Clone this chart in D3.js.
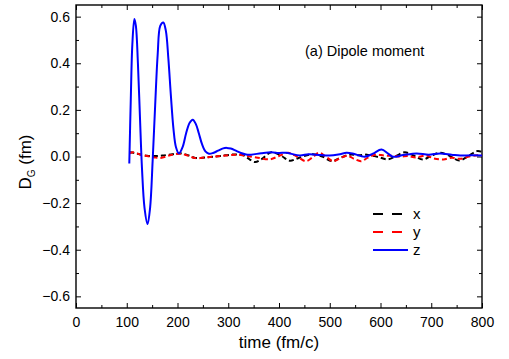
<!doctype html>
<html>
<head>
<meta charset="utf-8">
<script src="https://d3js.org/d3.v7.min.js"></script>
<style>
  body { margin: 0; background: #fff; }
  text { font-family: "Liberation Sans", Arial, sans-serif; fill: #000; }
</style>
</head>
<body>
<svg width="509" height="359"></svg>
<script>
// z component (blue, solid)
var tZ = [105, 108, 111, 115, 118, 122, 126, 130, 135, 141, 146, 151, 156, 161, 166, 172, 177, 182, 187, 192, 197, 203,
          210, 217, 224, 230, 236, 242, 248, 255, 262, 270, 280, 290, 297, 305, 315, 325, 335, 345, 365, 385, 400, 415,
          441, 458, 474, 500, 520, 533, 545, 569, 585, 602, 615, 625, 645, 671, 695, 717, 740, 757, 780, 800];
var zVals = [-0.03, 0.25, 0.48, 0.59, 0.56, 0.40, 0.17, -0.05, -0.22, -0.29, -0.22, -0.02, 0.22, 0.44, 0.56, 0.575, 0.54, 0.42, 0.26, 0.12, 0.04, 0.013,
             0.04, 0.10, 0.145, 0.158, 0.14, 0.10, 0.055, 0.022, 0.012, 0.015, 0.025, 0.035, 0.037, 0.034, 0.025, 0.015, 0.009, 0.008, 0.014, 0.018, 0.015, 0.016,
             0.004, 0.010, 0.008, 0.004, 0.010, 0.016, 0.013, -0.001, 0.012, 0.030, 0.012, -0.001, 0.006, 0.013, 0.008, 0.013, 0.008, 0.004, 0.005, 0.004];

// x component (black, dashed)
var tX = [105, 115, 125, 140, 155, 170, 190, 205, 220, 235, 255, 275, 295, 315, 330, 342, 353, 365, 385, 403, 421, 440, 467, 485,
          505, 520, 540, 557, 573, 595, 615, 632, 648, 666, 684, 700, 717, 735, 755, 772, 790, 800];
var xVals = [0.018, 0.015, 0.010, 0.003, 0.002, 0.004, 0.010, 0.014, 0.006, -0.006, -0.004, 0.000, 0.005, 0.009, 0.005, -0.012, -0.024, -0.012, 0.018, 0.005, -0.018, -0.005, 0.010, 0.000,
             -0.020, -0.006, 0.008, 0.005, 0.008, -0.002, -0.012, 0.004, 0.018, 0.003, -0.013, 0.003, 0.016, 0.004, -0.017, 0.000, 0.023, 0.020];

// y component (red, dashed)
var tY = [105, 113, 125, 140, 155, 167, 185, 205, 220, 235, 255, 275, 295, 315, 335, 355, 382, 400, 418, 437, 453, 467, 479, 493,
          507, 520, 535, 548, 562, 575, 590, 608, 625, 640, 654, 670, 690, 705, 724, 740, 757, 775, 790, 800];
var yVals = [0.013, 0.018, 0.010, 0.002, -0.004, -0.006, 0.005, 0.012, 0.004, -0.007, -0.004, 0.000, 0.004, 0.008, 0.003, -0.004, -0.012, 0.002, 0.016, -0.002, -0.020, -0.002, 0.016, -0.002,
             -0.020, -0.008, 0.003, -0.010, -0.020, -0.005, 0.008, 0.004, 0.003, 0.000, 0.002, -0.004, 0.004, -0.008, -0.013, -0.005, -0.010, 0.000, 0.005, 0.004];

var xTicks = [0, 100, 200, 300, 400, 500, 600, 700, 800];
var yTicks = [-0.6, -0.4, -0.2, 0.0, 0.2, 0.4, 0.6];

var svg = d3.select("svg");
var mLeft = 76, mRight = 482, mTop = 5, mBottom = 308;

var xScale = d3.scaleLinear().domain([0, 800]).range([mLeft, mRight]);
var yScale = d3.scaleLinear().domain([-0.65, 0.65]).range([mBottom, mTop]);

// minor ticks
var xMinor = d3.range(50, 800, 100);
var yMinor = [-0.5, -0.3, -0.1, 0.1, 0.3, 0.5];

function ticksOn(axis, values, size) {
  return axis.tickValues(values).tickSize(size).tickFormat("");
}

svg.append("g").attr("transform", "translate(0," + mBottom + ")")
  .call(d3.axisBottom(xScale).tickValues(xTicks).tickSize(-5).tickPadding(9).tickFormat(d3.format("d")));
svg.append("g").attr("transform", "translate(0," + mBottom + ")")
  .call(ticksOn(d3.axisBottom(xScale), xMinor, -3));
svg.append("g").attr("transform", "translate(0," + mTop + ")")
  .call(ticksOn(d3.axisTop(xScale), xTicks, -5));
svg.append("g").attr("transform", "translate(0," + mTop + ")")
  .call(ticksOn(d3.axisTop(xScale), xMinor, -3));

svg.append("g").attr("transform", "translate(" + mLeft + ",0)")
  .call(d3.axisLeft(yScale).tickValues(yTicks).tickSize(-5).tickPadding(6).tickFormat(d3.format(".1f")));
svg.append("g").attr("transform", "translate(" + mLeft + ",0)")
  .call(ticksOn(d3.axisLeft(yScale), yMinor, -3));
svg.append("g").attr("transform", "translate(" + mRight + ",0)")
  .call(ticksOn(d3.axisRight(yScale), yTicks, -5));
svg.append("g").attr("transform", "translate(" + mRight + ",0)")
  .call(ticksOn(d3.axisRight(yScale), yMinor, -3));

svg.selectAll(".domain").remove();
svg.selectAll(".tick line").attr("stroke", "#000").attr("stroke-width", 1);
svg.selectAll(".tick text").attr("font-size", 14).attr("font-family", "Liberation Sans, Arial, sans-serif");

svg.append("rect")
  .attr("x", mLeft).attr("y", mTop)
  .attr("width", mRight - mLeft).attr("height", mBottom - mTop)
  .attr("fill", "none").attr("stroke", "#000").attr("stroke-width", 1.4);

var line = d3.line()
  .x(function (d) { return xScale(d[0]); })
  .y(function (d) { return yScale(d[1]); })
  .curve(d3.curveCatmullRom);

var series = [
  { t: tX, v: xVals, color: "#000", dash: "5,3" },
  { t: tY, v: yVals, color: "#ff0000", dash: "5,3" },
  { t: tZ, v: zVals, color: "#0000ff", dash: null }
];

series.forEach(function (s) {
  svg.append("path")
    .datum(d3.zip(s.t, s.v))
    .attr("d", line)
    .attr("fill", "none")
    .attr("stroke", s.color)
    .attr("stroke-width", 2)
    .attr("stroke-dasharray", s.dash);
});

// annotation
svg.append("text").attr("x", 305).attr("y", 56).attr("font-size", 14.5).text("(a) Dipole moment");

// legend
var legend = [
  { name: "x", color: "#000", dash: "10,9", y: 214 },
  { name: "y", color: "#ff0000", dash: "10,9", y: 232 },
  { name: "z", color: "#0000ff", dash: null, y: 250 }
];
legend.forEach(function (l) {
  svg.append("line")
    .attr("x1", 373).attr("x2", 408).attr("y1", l.y).attr("y2", l.y)
    .attr("stroke", l.color).attr("stroke-width", 2)
    .attr("stroke-dasharray", l.dash);
  svg.append("text").attr("x", 413).attr("y", l.y + 5).attr("font-size", 15).text(l.name);
});

// axis titles
svg.append("text")
  .attr("x", (mLeft + mRight) / 2).attr("y", 348)
  .attr("text-anchor", "middle").attr("font-size", 17)
  .text("time (fm/c)");

var yt = svg.append("text")
  .attr("transform", "translate(31,162) rotate(-90)")
  .attr("text-anchor", "middle").attr("font-size", 17);
yt.append("tspan").text("D");
yt.append("tspan").attr("font-size", 10).attr("dy", 4).text("G");
yt.append("tspan").attr("dy", -4).text(" (fm)");
</script>
</body>
</html>
